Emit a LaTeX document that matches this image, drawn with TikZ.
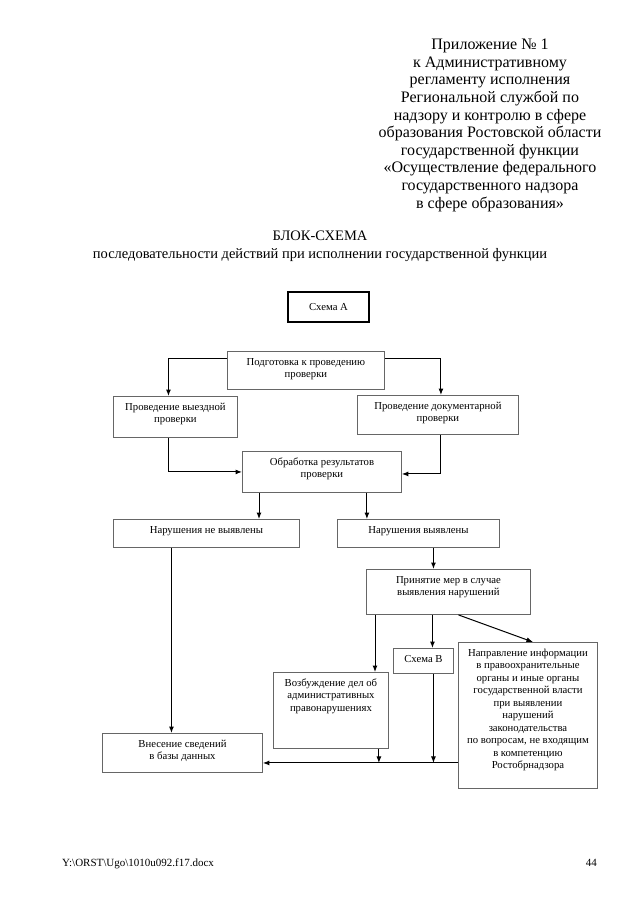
\documentclass[tikz,border=0pt]{standalone}
\usepackage{fontspec}
\setmainfont{Liberation Serif}
\usetikzlibrary{arrows.meta}

\tikzset{
	blok/.style={draw=black!60, line width=0.9pt, inner sep=0pt, anchor=north west, font=\fontsize{10.7}{12.5}\selectfont},
	strelka/.style={line width=1pt, -{Latex[length=6.5pt,width=5pt]}},
}
\newcommand{\vnutri}[3]{\parbox[c][#2][t]{#1}{\centering\rule{0pt}{14pt}#3}}

\begin{document}
\begin{tikzpicture}[x=1pt,y=-1pt]
			\useasboundingbox (0,0) rectangle (640,905);
			\node[anchor=north, inner sep=0pt, align=center, font=\fontsize{16}{17.6}\selectfont] (pril) at (490,39) {Приложение №~1\\ к Административному\\ регламенту исполнения\\ Региональной службой по\\ надзору и контролю в сфере\\ образования Ростовской области\\ государственной функции\\ «Осуществление федерального\\ государственного надзора\\ в сфере образования»};
			\node[anchor=north, inner sep=0pt, align=center, font=\fontsize{14.5}{18}\selectfont] (zagl) at (320,231) {БЛОК-СХЕМА\\ последовательности действий при исполнении государственной функции};
			\node[draw, line width=2.2pt, minimum width=81pt, minimum height=30pt, font=\fontsize{10.7}{12.5}\selectfont] (shemaA) at (328.5,307) {Схема А};
			\node[blok] (podg) at (227,351) {\vnutri{157pt}{38pt}{Подготовка к проведению\\ проверки}};
			\node[blok] (vyezd) at (113,396) {\vnutri{124pt}{41pt}{Проведение выездной\\ проверки}};
			\node[blok] (dokum) at (357,395) {\vnutri{161pt}{39pt}{Проведение документарной\\ проверки}};
			\node[blok] (obrab) at (242,451) {\vnutri{159pt}{41pt}{Обработка результатов\\ проверки}};
			\node[blok] (nenar) at (113,519) {\vnutri{186pt}{28pt}{Нарушения не выявлены}};
			\node[blok] (nar) at (337,519) {\vnutri{162pt}{28pt}{Нарушения выявлены}};
			\node[blok] (prin) at (366,569) {\vnutri{164pt}{45pt}{Принятие мер в случае\\ выявления нарушений}};
			\node[blok] (shemaB) at (393,648) {\vnutri{60pt}{25pt}{Схема В}};
			\node[blok] (vozb) at (273,672) {\vnutri{115pt}{76pt}{Возбуждение дел об\\ административных\\ правонарушениях}};
			\node[blok] (naprav) at (458,642) {\vnutri{139pt}{146pt}{Направление информации\\ в правоохранительные\\ органы и иные органы\\ государственной власти\\ при выявлении\\ нарушений\\ законодательства\\ по вопросам, не входящим\\ в компетенцию\\ Ростобрнадзора}};
			\node[blok] (vnes) at (102,733) {\vnutri{160pt}{39pt}{Внесение сведений\\ в базы данных}};
			\draw[strelka] ([yshift=-7pt]podg.north west) -| ([xshift=-7pt]vyezd.north);
			\draw[strelka] ([yshift=-7pt]podg.north east) -| ([xshift=3pt]dokum.north);
			\draw[strelka] ([xshift=-7pt]vyezd.south) |- (obrab.west);
			\draw[strelka] ([xshift=3pt]dokum.south) |- ([yshift=-2pt]obrab.east);
			\draw[strelka] ([xshift=17pt]obrab.south west) -- ([xshift=17pt]obrab.south west |- nenar.north);
			\draw[strelka] ([xshift=-35pt]obrab.south east) -- ([xshift=-35pt]obrab.south east |- nar.north);
			\draw[strelka] ([xshift=-11pt]vnes.north |- nenar.south) -- ([xshift=-11pt]vnes.north);
			\draw[strelka] ([xshift=-15pt]prin.north |- nar.south) -- ([xshift=-15pt]prin.north);
			\draw[strelka] ([xshift=9pt]prin.south west) -- ([xshift=9pt]prin.south west |- vozb.north);
			\draw[strelka] ([xshift=9pt]shemaB.north |- prin.south) -- ([xshift=9pt]shemaB.north);
			\draw[strelka] ([xshift=10pt]prin.south) -- ([xshift=5pt]naprav.north);
			\coordinate (vhod) at ([yshift=-10pt]vnes.east);
			\draw[strelka] (naprav.west |- vhod) -- (vhod);
			\draw[strelka] ([xshift=-10pt]vozb.south east) -- ([xshift=-10pt]vozb.south east |- vhod);
			\draw[strelka] ([xshift=10pt]shemaB.south) -- ([xshift=10pt]shemaB.south |- vhod);
			\node[anchor=base west, inner sep=0pt, font=\fontsize{11}{13}\selectfont] (fajl) at (62,866) {Y:\textbackslash ORST\textbackslash Ugo\textbackslash 1010u092.f17.docx};
			\node[anchor=base east, inner sep=0pt, font=\fontsize{11}{13}\selectfont] (str) at (597,866) {44};
		\end{tikzpicture}
\end{document}
